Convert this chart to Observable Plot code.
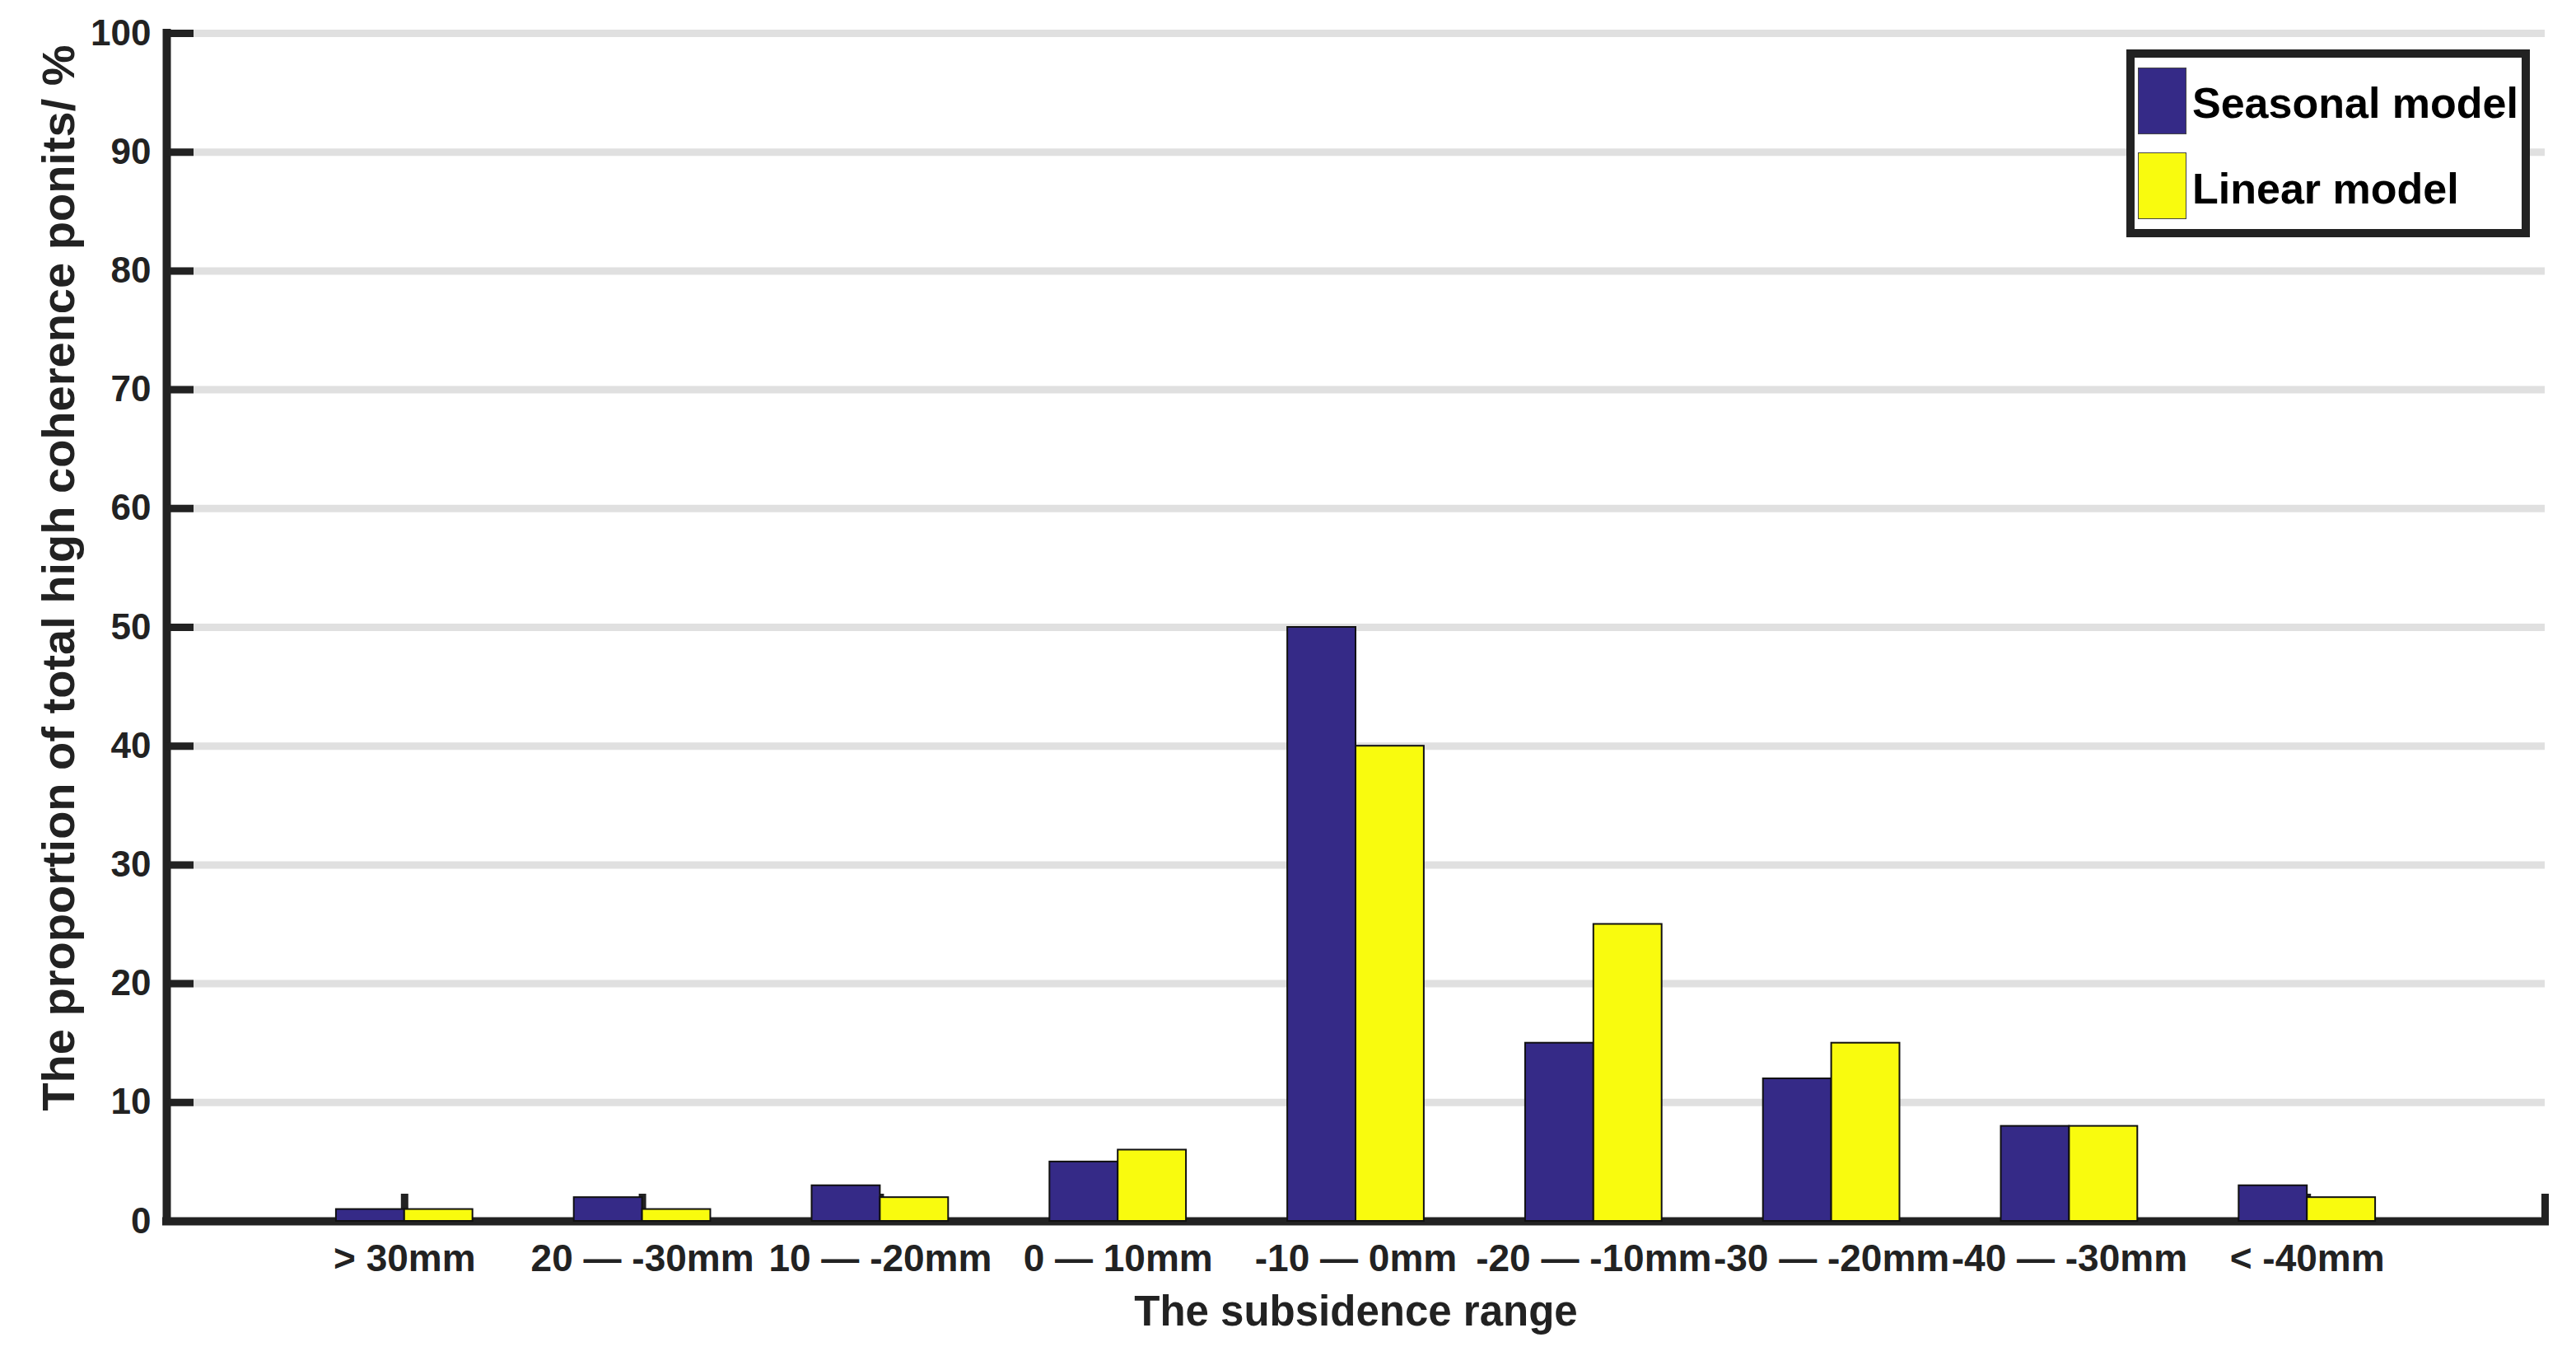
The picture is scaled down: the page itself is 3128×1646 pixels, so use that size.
<!DOCTYPE html>
<html>
<head>
<meta charset="utf-8">
<script src="https://cdn.jsdelivr.net/npm/d3@7"></script>
<script src="https://cdn.jsdelivr.net/npm/@observablehq/plot@0.6"></script>
<style>
  html, body { margin: 0; padding: 0; background: #fff; }
  #wrap { position: relative; width: 3128px; height: 1646px; font-family: "Liberation Sans", Arial, sans-serif; font-weight: bold; }
  #wrap svg { display: block; }
  .legend { position: absolute; left: 2582px; top: 60px; width: 470px; height: 208px; border: 10px solid #222; background: #fff; }
  .sw { position: absolute; left: 4px; width: 57px; height: 79px; border: 1px solid #444; }
  .lt { position: absolute; left: 70px; font-size: 52px; line-height: 52px; color: #000; white-space: nowrap; }
</style>
</head>
<body>
<div id="wrap"></div>
<script>
// ---- data ----
const categories = ["> 30mm", "20 — -30mm", "10 — -20mm", "0 — 10mm", "-10 — 0mm", "-20 — -10mm", "-30 — -20mm", "-40 — -30mm", "< -40mm"];
const seriesNames = ["Seasonal model", "Linear model"];
const seasonal = [1, 2, 3, 5, 50, 15, 12, 8, 3];
const linear = [1, 1, 2, 6, 40, 25, 15, 8, 2];
const yTicks = [0, 10, 20, 30, 40, 50, 60, 70, 80, 90, 100];
const xTitle = "The subsidence range";
const yTitle = "The proportion of total high coherence ponits/ %";
const seriesColors = ["#352a87", "#f9fb0e"];

// ---- table built from the arrays ----
const rows = categories.flatMap((c, i) => [
  {cat: c, series: seriesNames[0], value: seasonal[i], pos: i + 1, side: 0},
  {cat: c, series: seriesNames[1], value: linear[i], pos: i + 1, side: 1}
]);
const barW = 0.287; // bar width in category units
const xTickPos = d3.range(1, categories.length + 2);
const xLabelPos = d3.range(1, categories.length + 1);

const ink = "#222";
const chart = Plot.plot({
  width: 3128,
  height: 1646,
  marginLeft: 202,
  marginRight: 38,
  marginTop: 40,
  marginBottom: 164,
  x: {domain: [0, categories.length + 1], label: null},
  y: {domain: [0, 100], label: null},
  color: {domain: seriesNames, range: seriesColors},
  style: {fontFamily: '"Liberation Sans", Arial, sans-serif', fontWeight: "bold", background: "#fff", color: ink, overflow: "visible"},
  marks: [
    Plot.ruleY(yTicks.filter(d => d > 0), {stroke: "#e0e0e0", strokeWidth: 9}),
    Plot.ruleY([0], {stroke: ink, strokeWidth: 10, strokeLinecap: "square"}),
    Plot.ruleX([0], {y1: 0, y2: 100, stroke: ink, strokeWidth: 10, strokeLinecap: "square"}),
    Plot.axisY({ticks: yTicks, tickSize: -33, stroke: ink, strokeWidth: 9, fill: "none", label: null}),
    Plot.axisY({ticks: yTicks, tickSize: 0, tickPadding: 19, fontSize: 44, fill: ink, label: null}),
    Plot.axisX({ticks: xTickPos, tickSize: -33, stroke: ink, strokeWidth: 9, fill: "none", label: null}),
    Plot.axisX({ticks: xLabelPos, tickSize: 0, tickPadding: 28, fontSize: 46, fill: ink, label: null,
      tickFormat: d => categories[d - 1]}),
    Plot.rectY(rows, {
      x1: d => d.side === 0 ? d.pos - barW : d.pos,
      x2: d => d.side === 0 ? d.pos : d.pos + barW,
      y1: 0,
      y2: "value",
      fill: "series",
      stroke: "#111",
      strokeWidth: 2
    }),
    Plot.text([xTitle], {frameAnchor: "bottom", dy: 126, lineAnchor: "bottom", textAnchor: "middle", fontSize: 51, fill: ink}),
    Plot.text([yTitle], {frameAnchor: "left", rotate: -90, dx: -152, dy: -60, lineAnchor: "top", textAnchor: "middle", fontSize: 56, fill: ink})
  ]
});

const wrap = document.getElementById("wrap");
wrap.appendChild(chart);

// legend (inside plot area, top right)
const legend = document.createElement("div");
legend.className = "legend";
const tops = [12, 115];
const textTops = [29, 133];
seriesNames.forEach((name, i) => {
  const sw = document.createElement("div");
  sw.className = "sw";
  sw.style.top = tops[i] + "px";
  sw.style.background = seriesColors[i];
  legend.appendChild(sw);
  const t = document.createElement("div");
  t.className = "lt";
  t.style.top = textTops[i] + "px";
  t.textContent = name;
  legend.appendChild(t);
});
wrap.appendChild(legend);
</script>
</body>
</html>
